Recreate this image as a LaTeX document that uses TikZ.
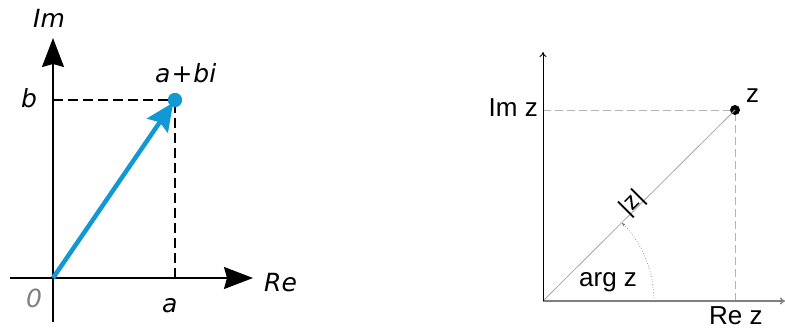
\documentclass[tikz,border=0pt]{standalone}
\usepackage{fontspec}
\newfontfamily\lfont{DejaVu Sans}
\newfontfamily\rfont{Liberation Sans}
\usetikzlibrary{arrows.meta}
\definecolor{vecblue}{RGB}{18,152,212}
\begin{document}
\begin{tikzpicture}[x=1pt,y=1pt,
  lab/.style={inner sep=0pt,font=\lfont\itshape\fontsize{25}{28}\selectfont},
  rlab/.style={inner sep=0pt,font=\rfont\fontsize{26}{30}\selectfont},
  bigaxis/.style={line width=1.8pt,-{Stealth[length=29pt,width=22pt,inset=3pt]}},
  smallaxis/.style={-{To[length=5pt,width=7pt]}},
  ldash/.style={line width=1.4pt,dash pattern=on 10pt off 5pt},
  rdash/.style={line width=0.9pt,gray!60,dash pattern=on 8pt off 4pt}]
\useasboundingbox (0,0) rectangle (785,329);
% ---------- left diagram ----------
\coordinate (O1) at (53,51);
\coordinate (imtop) at (53,291);
\coordinate (imbot) at (53,7);
\coordinate (releft) at (10,51);
\coordinate (reright) at (253,51);
\coordinate (B1) at (53,229);
\coordinate (A1) at (175,51);
\node[circle,fill=vecblue,inner sep=0pt,minimum size=14pt] (P1) at (175,229) {};
\draw[line width=1.8pt] (imbot) -- (O1);
\draw[bigaxis] (O1) -- (imtop);
\draw[line width=1.8pt] (releft) -- (O1);
\draw[bigaxis] (O1) -- (reright);
\draw[ldash] (B1) -- (P1.center);
\draw[ldash] (A1) -- (P1.center);
\draw[vecblue,line width=4.5pt,-{Stealth[length=28pt,width=25pt,inset=4pt]},shorten >=3pt] (O1) -- (P1.center);
\node[circle,fill=vecblue,inner sep=0pt,minimum size=14pt] at (P1) {};
\node[lab,anchor=base west] (lIm) at (33,301) {Im};
\node[lab,anchor=base west] (lb) at (21,221) {b};
\node[lab,anchor=base west] (lP) at (155,246) {a{\kern1pt}+{\kern1pt}bi};
\node[lab,anchor=base west] (lRe) at (264,37) {Re};
\node[lab,anchor=base west,text=gray] (l0) at (26,21) {0};
\node[lab,anchor=base west] (la) at (162,16) {a};
% ---------- right diagram ----------
\coordinate (O2) at (543,28);
\coordinate (vtop) at (543,277);
\coordinate (hright) at (785,28);
\coordinate (Yz) at (543,219);
\coordinate (Xz) at (735,28);
\coordinate (arcstart) at (654,28);
\node[circle,fill=black,inner sep=0pt,minimum size=10pt] (Z) at (735,219) {};
\draw[rdash] (Yz) -- (Z);
\draw[rdash] (Xz) -- (Z);
\draw[gray!70,line width=0.8pt] (O2) -- (Z.center)
  node[pos=0.49,rotate=45,anchor=base,inner sep=0pt,text=black,font=\rfont\fontsize{24}{28}\selectfont] (absz) {|z|};
\draw[gray,line width=1.5pt,smallaxis] (O2) -- (hright);
\draw[black,line width=0.9pt,smallaxis] (O2) -- (vtop);
\draw[gray,dotted,line width=0.7pt,-{Latex[length=4pt,width=3pt]}] (arcstart) arc[start angle=0,end angle=45,radius=111];
\node[rlab,anchor=base east] (lImz) at (538,212) {Im z};
\node[rlab,anchor=base west] (lz) at (746,226) {z};
\node[rlab,anchor=base west] (lRez) at (709,4) {Re z};
\node[rlab,anchor=base west] (larg) at (579,42) {arg z};
\end{tikzpicture}
\end{document}
